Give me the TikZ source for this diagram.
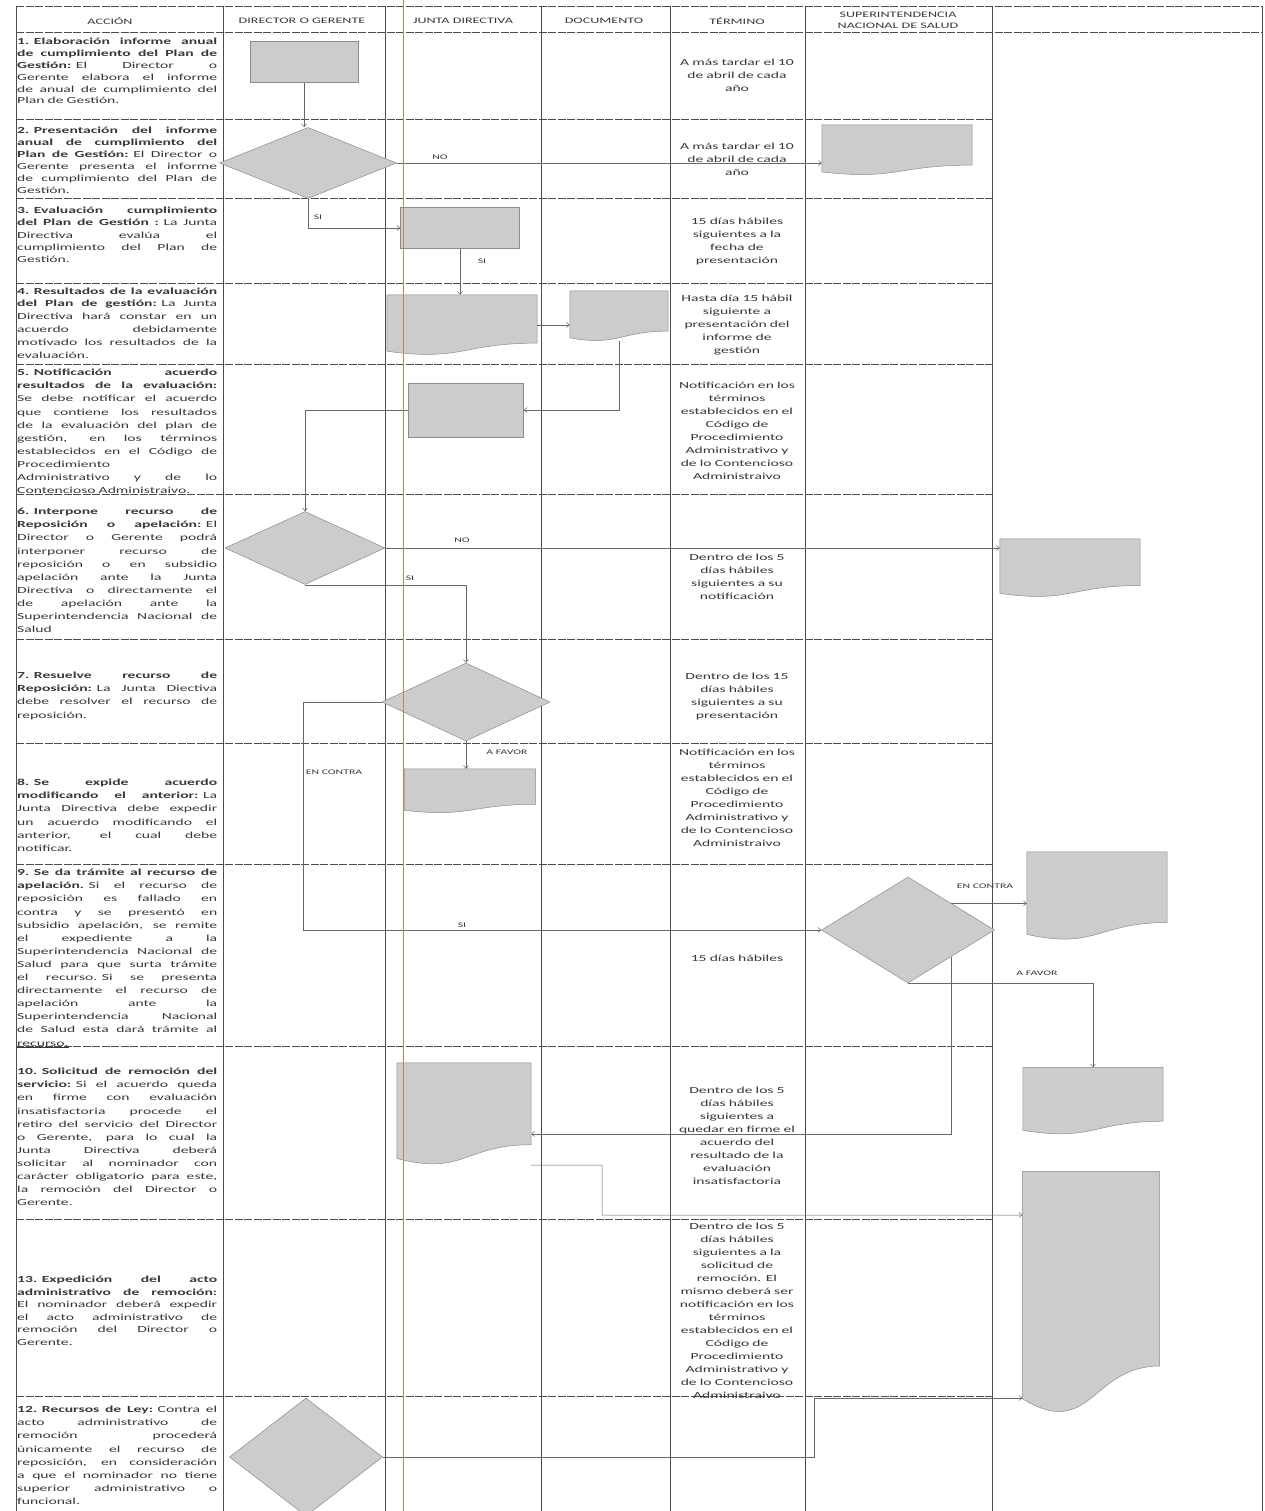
\documentclass[tikz,border=0pt]{standalone}
\usepackage{fontspec}
\setmainfont{Carlito}[FakeStretch=1.68]
\usetikzlibrary{shapes.geometric, arrows.meta, calc}

\definecolor{tinta}{gray}{0.22}
\definecolor{regla}{gray}{0.3}
\definecolor{relleno}{gray}{0.8}
\definecolor{borde}{gray}{0.55}
\definecolor{margen}{RGB}{206,128,92}

% una linea justificada de la columna ACCION
\newcommand{\jl}[1]{\leavevmode\hbox to 200pt{\spaceskip=\fontdimen2\font plus 1fil\relax#1}}
% cuerpo de la figura documento (borde inferior ondulado)
\newcommand{\docbody}[1]{%
  \filldraw[docfill] (#1.north west) -- (#1.north east)
    -- ($(#1.north east)!0.80!(#1.south east)$)
    .. controls ($(#1.north)!0.80!(#1.south)$) and ($(#1.north)!1.107!(#1.south)$)
    .. ($(#1.north west)!0.934!(#1.south west)$) -- cycle;}

\begin{document}
\begin{tikzpicture}[x=1pt, y=-1pt, >={Straight Barb[length=3pt,width=5pt]},
  col/.style={draw=regla, line width=0.7pt},
  fila/.style={draw=regla, line width=0.7pt, dash pattern=on 8pt off 1.5pt},
  cab/.style={font=\fontsize{8.4}{11}\selectfont, text=tinta, align=center, inner sep=0pt},
  accion/.style={anchor=north west, inner sep=0pt, text width=200pt, align=left, text=tinta, font=\fontsize{9.3}{#1}\selectfont},
  accion/.default=13.1,
  termino/.style={inner sep=0pt, text width=132pt, align=center, text=tinta, font=\fontsize{9.3}{13}\selectfont},
  proc/.style={rectangle, fill=relleno, draw=borde, line width=0.5pt, inner sep=0pt},
  deci/.style={diamond, fill=relleno, draw=borde, line width=0.5pt, inner sep=0pt},
  docu/.style={rectangle, draw=none, inner sep=0pt},
  docfill/.style={fill=relleno, draw=borde, line width=0.5pt},
  flecha/.style={draw=regla!85, line width=0.5pt, ->},
  etiq/.style={font=\fontsize{7}{8}\selectfont, text=tinta, inner sep=0.5pt}]

  \fill[white] (0,0) rectangle (1264,1511);
  \useasboundingbox (0,0) rectangle (1264,1511);

  % rejilla de la tabla
  \draw[fila] (16,6) -- (1262,6);
  \draw[fila] (16,32) -- (1262,32);
  \foreach \y in {119,198,283,364,494,639,743,864,1046,1219,1396}
    \draw[fila] (16,\y) -- (992,\y);
  \foreach \x in {16,223,385,541,670,805,992,1262}
    \draw[col] (\x,6) -- (\x,1511);

  % encabezados
  \node[cab] (h1) at (110,21) {ACCIÓN};
  \node[cab] (h2) at (302,21) {DIRECTOR O GERENTE};
  \node[cab] (h3) at (463,21) {JUNTA DIRECTIVA};
  \node[cab] (h4) at (604,21) {DOCUMENTO};
  \node[cab] (h5) at (737,21) {TÉRMINO};
  \node[cab] (h6) at (898,20) {SUPERINTENDENCIA\\NACIONAL DE SALUD};

  % columna ACCION
  \node[accion=11.8] (acc1) at (17,36.4) {\strut\jl{\textbf{1. Elaboración informe anual}}\\
    \jl{\textbf{de cumplimiento del Plan de}}\\
    \jl{\textbf{Gestión:} El Director o}\\
    \jl{Gerente elabora el informe}\\
    \jl{de anual de cumplimiento del}\\
    Plan de Gestión.};
  \node[accion=12.1] (acc2) at (17,124.4) {\strut\jl{\textbf{2. Presentación del informe}}\\
    \jl{\textbf{anual de cumplimiento del}}\\
    \jl{\textbf{Plan de Gestión:} El Director o}\\
    \jl{Gerente presenta el informe}\\
    \jl{de cumplimiento del Plan de}\\
    Gestión.};
  \node[accion=12.4] (acc3) at (17,204.4) {\strut\jl{\textbf{3. Evaluación cumplimiento}}\\
    \jl{\textbf{del Plan de Gestión :} La Junta}\\
    \jl{Directiva evalúa el}\\
    \jl{cumplimiento del Plan de}\\
    Gestión.};
  \node[accion=12.8] (acc4) at (17,285) {\strut\jl{\textbf{4. Resultados de la evaluación}}\\
    \jl{\textbf{del Plan de gestión:} La Junta}\\
    \jl{Directiva hará constar en un}\\
    \jl{acuerdo debidamente}\\
    \jl{motivado los resultados de la}\\
    evaluación.};
  \node[accion] (acc5) at (17,366.4) {\strut\jl{\textbf{5. Notificación acuerdo}}\\
    \jl{\textbf{resultados de la evaluación:}}\\
    \jl{Se debe notificar el acuerdo}\\
    \jl{que contiene los resultados}\\
    \jl{de la evaluación del plan de}\\
    \jl{gestión, en los términos}\\
    \jl{establecidos en el Código de}\\
    Procedimiento\\
    \jl{Administrativo y de lo}\\
    Contencioso Administraivo.};
  \node[accion] (acc6) at (17,505.4) {\strut\jl{\textbf{6. Interpone recurso de}}\\
    \jl{\textbf{Reposición o apelación:} El}\\
    \jl{Director o Gerente podrá}\\
    \jl{interponer recurso de}\\
    \jl{reposición o en subsidio}\\
    \jl{apelación ante la Junta}\\
    \jl{Directiva o directamente el}\\
    \jl{de apelación ante la}\\
    \jl{Superintendencia Nacional de}\\
    Salud};
  \node[accion] (acc7) at (17,669.4) {\strut\jl{\textbf{7. Resuelve recurso de}}\\
    \jl{\textbf{Reposición:} La Junta Diectiva}\\
    \jl{debe resolver el recurso de}\\
    reposición.};
  \node[accion] (acc8) at (17,776.4) {\strut\jl{\textbf{8. Se expide acuerdo}}\\
    \jl{\textbf{modificando el anterior:} La}\\
    \jl{Junta Directiva debe expedir}\\
    \jl{un acuerdo modificando el}\\
    \jl{anterior, el cual debe}\\
    notificar.};
  \node[accion] (acc9) at (17,866.4) {\strut\jl{\textbf{9. Se da trámite al recurso de}}\\
    \jl{\textbf{apelación.} Si el recurso de}\\
    \jl{reposición es fallado en}\\
    \jl{contra y se presentó en}\\
    \jl{subsidio apelación, se remite}\\
    \jl{el expediente a la}\\
    \jl{Superintendencia Nacional de}\\
    \jl{Salud para que surta trámite}\\
    \jl{el recurso. Si se presenta}\\
    \jl{directamente el recurso de}\\
    \jl{apelación ante la}\\
    \jl{Superintendencia Nacional}\\
    \jl{de Salud esta dará trámite al}\\
    \underline{recurso.}};
  \node[accion] (acc10) at (17,1065.4) {\strut\jl{\textbf{10. Solicitud de remoción del}}\\
    \jl{\textbf{servicio:} Si el acuerdo queda}\\
    \jl{en firme con evaluación}\\
    \jl{insatisfactoria procede el}\\
    \jl{retiro del servicio del Director}\\
    \jl{o Gerente, para lo cual la}\\
    \jl{Junta Directiva deberá}\\
    \jl{solicitar al nominador con}\\
    \jl{carácter obligatorio para este,}\\
    \jl{la remoción del Director o}\\
    Gerente.};
  \node[accion=12.6] (acc11) at (17,1273.4) {\strut\jl{\textbf{13. Expedición del acto}}\\
    \jl{\textbf{administrativo de remoción:}}\\
    \jl{El nominador deberá expedir}\\
    \jl{el acto administrativo de}\\
    \jl{remoción del Director o}\\
    Gerente.};
  \node[accion] (acc12) at (17,1403.4) {\strut\jl{\textbf{12. Recursos de Ley:} Contra el}\\
    \jl{acto administrativo de}\\
    \jl{remoción procederá}\\
    \jl{únicamente el recurso de}\\
    \jl{reposición, en consideración}\\
    \jl{a que el nominador no tiene}\\
    \jl{superior administrativo o}\\
    funcional.};

  % columna TERMINO
  \node[termino] (ter1) at (737,75) {A más tardar el 10\\de abril de cada\\año};
  \node[termino] (ter2) at (737,159) {A más tardar el 10\\de abril de cada\\año};
  \node[termino] (ter3) at (737,242) {15 días hábiles\\siguientes a la\\fecha de\\presentación};
  \node[termino] (ter4) at (737,325) {Hasta día 15 hábil\\siguiente a\\presentación del\\informe de\\gestión};
  \node[termino] (ter5) at (737,431) {Notificación en los\\términos\\establecidos en el\\Código de\\Procedimiento\\Administrativo y\\de lo Contencioso\\Administraivo};
  \node[termino] (ter6) at (737,577) {Dentro de los 5\\días hábiles\\siguientes a su\\notificación};
  \node[termino] (ter7) at (737,697) {Dentro de los 15\\días hábiles\\siguientes a su\\presentación};
  \node[termino] (ter8) at (737,798) {Notificación en los\\términos\\establecidos en el\\Código de\\Procedimiento\\Administrativo y\\de lo Contencioso\\Administraivo};
  \node[termino] (ter9) at (737,958) {15 días hábiles};
  \node[termino] (ter10) at (737,1136) {Dentro de los 5\\días hábiles\\siguientes a\\quedar en firme el\\acuerdo del\\resultado de la\\evaluación\\insatisfactoria};
  \node[termino] (ter11) at (737,1311) {Dentro de los 5\\días hábiles\\siguientes a la\\solicitud de\\remoción. El\\mismo deberá ser\\notificación en los\\términos\\establecidos en el\\Código de\\Procedimiento\\Administrativo y\\de lo Contencioso\\Administraivo};

  % figuras del flujo
  \node[proc, minimum width=108pt, minimum height=41pt] (pA) at (304,62) {};
  \node[deci, minimum width=177pt, minimum height=71pt] (dB) at (308,163) {};
  \node[docu, minimum width=150pt, minimum height=50pt] (sup1) at (897,150) {};
  \docbody{sup1}
  \node[proc, minimum width=119pt, minimum height=41pt] (pC) at (460,228) {};
  \node[docu, minimum width=150pt, minimum height=60pt] (docD) at (462,325) {};
  \docbody{docD}
  \node[docu, minimum width=98pt, minimum height=50pt] (docE) at (619,316) {};
  \docbody{docE}
  \node[proc, minimum width=115pt, minimum height=54pt] (pF) at (466,410) {};
  \node[deci, minimum width=160pt, minimum height=73pt] (dG) at (305,548) {};
  \node[docu, minimum width=140pt, minimum height=58pt] (der6) at (1070,568) {};
  \docbody{der6}
  \node[deci, minimum width=168pt, minimum height=78pt] (dH) at (466,702) {};
  \node[docu, minimum width=131pt, minimum height=44pt] (docJ) at (470,791) {};
  \docbody{docJ}
  \node[deci, minimum width=173pt, minimum height=106pt] (dI) at (908,930) {};
  \node[docu, minimum width=140pt, minimum height=88pt] (docK) at (1097,896) {};
  \docbody{docK}
  \node[docu, minimum width=140pt, minimum height=67pt] (docL) at (1093,1101) {};
  \docbody{docL}
  \node[docu, minimum width=134pt, minimum height=102pt] (docM) at (464,1114) {};
  \docbody{docM}
  \node[docu, minimum width=137pt, minimum height=243pt] (docN) at (1091,1293) {};
  \docbody{docN}
  \node[deci, minimum width=153pt, minimum height=118pt] (dP) at (306,1457) {};

  % puntos de quiebre
  \coordinate (cEC) at (303,930);
  \coordinate (cRem) at (951,1134);
  \coordinate (cM1) at (602,1165);
  \coordinate (cM2) at (602,1215);
  \coordinate (cR) at (814,1398);

  % conectores
  \draw[flecha] (pA.south) -- (pA.south |- dB.north);
  \draw[flecha] (dB.east) -- (dB.east -| sup1.west);
  \draw[flecha] (dB.south) |- (pC.west);
  \draw[flecha] (pC.south) -- (pC.south |- docD.north);
  \draw[flecha] (docD.east) -- (docD.east -| docE.west);
  \draw[flecha] (docE.south) |- (pF.east);
  \draw[flecha] (pF.west) -| (dG.north);
  \draw[flecha] (dG.east) -- (dG.east -| der6.west);
  \draw[flecha] (dG.south) -| (dH.north);
  \draw[flecha] (dH.west) -| (cEC) -- (dI.west);
  \draw[flecha] (dH.south) -- (dH.south |- docJ.north);
  \draw[flecha] (dI.north east) -- (dI.north east -| docK.west);
  \draw[flecha] (dI.south) -| (docL.north);
  \draw[flecha] (dI.south east) -- (dI.south east |- cRem) -- (cRem -| docM.east);
  \draw[flecha] (docM.south east) -- (cM1) |- (cM2 -| docN.west);
  \draw[flecha] (dP.east) -| (cR) -- (cR -| docN.west);

  % etiquetas
  \node[etiq] (lno1) at (440,157) {NO};
  \node[etiq] (lsi1) at (318,217) {SI};
  \node[etiq] (lsi2) at (482,261) {SI};
  \node[etiq] (lno2) at (462,540) {NO};
  \node[etiq] (lsi3) at (410,578) {SI};
  \node[etiq] (lfav1) at (507,752) {A FAVOR};
  \node[etiq] (lcon1) at (334,772) {EN CONTRA};
  \node[etiq] (lsi4) at (462,925) {SI};
  \node[etiq] (lcon2) at (985,886) {EN CONTRA};
  \node[etiq] (lfav2) at (1037,973) {A FAVOR};

  % linea de margen del escaneo
  \draw[margen, line width=0.8pt] (403,0) -- (403,1511);
\end{tikzpicture}
\end{document}
